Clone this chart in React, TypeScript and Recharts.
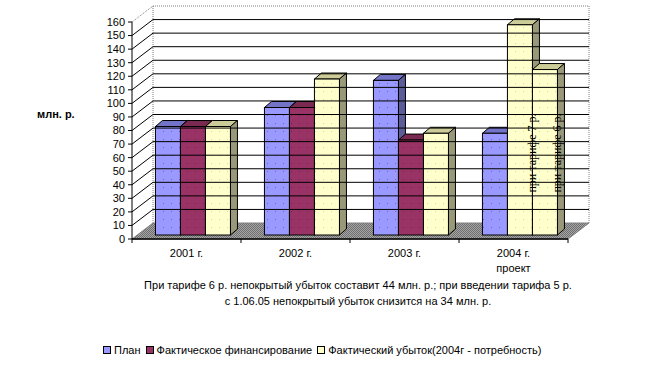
import React from "react";
import { Bar, BarChart, LabelList, ReferenceArea, ReferenceLine, XAxis, YAxis } from "recharts";

const categories = ["2001 г.", "2002 г.", "2003 г.", "2004 г."];
const categoryNotes = ["", "", "", "проект"];
const planValues = [80, 94, 114, 75];
const financeValues = [80, 94, 70, 155];
const lossValues = [80, 115, 75, 122];
// 2004: the second and third columns are both "loss" variants (tariff 7 / tariff 6)
const financeLabels = ["", "", "", "при тарифе 7 р."];
const lossLabels = ["", "", "", "при тарифе 6 р."];
const yTicks = [0, 10, 20, 30, 40, 50, 60, 70, 80, 90, 100, 110, 120, 130, 140, 150, 160];

const seriesNames = ["План", "Фактическое финансирование", "Фактический убыток(2004г - потребность)"];
const note =
  "При тарифе 6 р. непокрытый убыток составит 44 млн. р.; при введении тарифа 5 р.";
const note2 = "с 1.06.05 непокрытый убыток снизится на 34 млн. р.";

const data = categories.map((name, i) => ({
  name,
  plan: planValues[i],
  finance: financeValues[i],
  loss: lossValues[i],
  financeLabel: financeLabels[i],
  lossLabel: lossLabels[i],
}));

const FONT = "'Liberation Sans', Arial, sans-serif";
const W = 645;
const H = 370;

// 3D geometry
const WALL_DX = 21;
const WALL_DY = 16;
const BAR_SHIFT_X = 6;
const BAR_SHIFT_Y = 4;
const BAR_DX = 7;
const BAR_DY = 6;

type Palette = { face: string; dot: string; top: string; side: string; id: string };
const PLAN: Palette = { id: "plan", face: "#9999ff", dot: "#6666cc", top: "#7373c8", side: "#5c5c99" };
const FIN: Palette = { id: "fin", face: "#993366", dot: "#6b2347", top: "#7a2950", side: "#5c1f3d" };
const LOSS: Palette = { id: "loss", face: "#ffffcc", dot: "#d6d6a8", top: "#cccc99", side: "#99997a" };

function makeShape(pal: Palette, override?: (i: number) => Palette | null) {
  return (props: any) => {
    const { x, y, width, height, index } = props;
    const p = (override && override(index)) || pal;
    const fx = x + BAR_SHIFT_X;
    const fy = y - BAR_SHIFT_Y;
    return (
      <g stroke="#000" strokeWidth={1}>
        <polygon
          points={`${fx},${fy} ${fx + BAR_DX},${fy - BAR_DY} ${fx + width + BAR_DX},${fy - BAR_DY} ${fx + width},${fy}`}
          fill={p.top}
        />
        <polygon
          points={`${fx + width},${fy} ${fx + width + BAR_DX},${fy - BAR_DY} ${fx + width + BAR_DX},${fy + height - BAR_DY} ${fx + width},${fy + height}`}
          fill={p.side}
        />
        <rect x={fx} y={fy} width={width} height={height} fill={`url(#dots-${p.id})`} />
      </g>
    );
  };
}

const planShape = makeShape(PLAN);
const financeShape = makeShape(FIN, (i) => (financeLabels[i] ? LOSS : null));
const lossShape = makeShape(LOSS);

// both 2004 captions are drawn from the last series so they sit on top of every bar
function makeVerticalLabel(edge: "left" | "right") {
  return (props: any) => {
    const { x, y, width, height, value } = props;
    if (!value) return null;
    const cx = x + BAR_SHIFT_X + (edge === "right" ? width : 0) - 0.5;
    const cy = y + height - BAR_SHIFT_Y - 82;
    return (
      <text
        x={cx}
        y={cy}
        transform={`rotate(-90 ${cx} ${cy})`}
        textAnchor="middle"
        dominantBaseline="central"
        fontFamily="'Liberation Serif', 'Times New Roman', serif"
        fontSize={12}
        fill="#000"
      >
        {value}
      </text>
    );
  };
}

const leftLabel = makeVerticalLabel("left");
const rightLabel = makeVerticalLabel("right");

function Walls(props: any) {
  const { x, y, width, height } = props;
  const b = y + height;
  return (
    <g>
      <polygon
        points={`${x},${b} ${x + width},${b} ${x + width + WALL_DX},${b - WALL_DY} ${x + WALL_DX},${b - WALL_DY}`}
        fill="url(#floorDots)"
        stroke="#808080"
      />
      <line x1={x + WALL_DX} y1={y - WALL_DY} x2={x + WALL_DX} y2={b - WALL_DY} stroke="#808080" strokeDasharray="1 1" />
      <line x1={x + width + WALL_DX} y1={y - WALL_DY} x2={x + width + WALL_DX} y2={b - WALL_DY} stroke="#808080" strokeDasharray="1 1" />
      <line x1={x + WALL_DX} y1={y - WALL_DY} x2={x + width + WALL_DX} y2={y - WALL_DY} stroke="#808080" strokeDasharray="1 1" />
      <line x1={x} y1={y} x2={x + WALL_DX} y2={y - WALL_DY} stroke="#808080" strokeDasharray="1 1" />
      <line x1={x} y1={b} x2={x + width} y2={b} stroke="#000" />
    </g>
  );
}

function GridLine(props: any) {
  const { x1, x2, y1 } = props;
  return (
    <g stroke="#000">
      <line x1={x1} y1={y1} x2={x1 + WALL_DX} y2={y1 - WALL_DY} />
      <line x1={x1 + WALL_DX} y1={y1 - WALL_DY} x2={x2 + WALL_DX} y2={y1 - WALL_DY} />
    </g>
  );
}

function CategoryTick(props: any) {
  const { x, y, payload, index, width } = props;
  const band = (width || 436) / categories.length;
  const left = x - band / 2;
  const i = index ?? categories.indexOf(payload.value);
  return (
    <g>
      <line x1={left} y1={y} x2={left} y2={y + 4} stroke="#000" />
      {i === categories.length - 1 && <line x1={x + band / 2} y1={y} x2={x + band / 2} y2={y + 4} stroke="#000" />}
      <text x={x} y={y + 18} textAnchor="middle" fontFamily={FONT} fontSize={11} fill="#000">
        {payload.value}
      </text>
      {categoryNotes[i] && (
        <text x={x} y={y + 33} textAnchor="middle" fontFamily={FONT} fontSize={11} fill="#000">
          {categoryNotes[i]}
        </text>
      )}
    </g>
  );
}

const palettes = [PLAN, FIN, LOSS];

export default function App() {
  return (
    <div style={{ position: "absolute", left: 0, top: 0, width: W, height: H, background: "#fff", fontFamily: FONT }}>
      <BarChart
        width={W}
        height={H}
        data={data}
        margin={{ top: 22, right: 77, left: 92, bottom: 101 }}
        barCategoryGap="16%"
        barGap={0}
      >
        <defs>
          <pattern id="floorDots" width="2" height="2" patternUnits="userSpaceOnUse">
            <rect width="2" height="2" fill="#a6a6a6" />
            <rect width="1" height="1" fill="#6e6e6e" />
            <rect x="1" y="1" width="1" height="1" fill="#6e6e6e" />
          </pattern>
          {palettes.map((p) => (
            <pattern key={p.id} id={`dots-${p.id}`} width="8" height="8" patternUnits="userSpaceOnUse">
              <rect width="8" height="8" fill={p.face} />
              <rect x="3" y="3" width="1" height="1" fill={p.dot} />
            </pattern>
          ))}
        </defs>
        <XAxis
          dataKey="name"
          height={30}
          axisLine={{ stroke: "#000" }}
          tickLine={false}
          tickSize={0}
          tickMargin={0}
          tick={<CategoryTick />}
          interval={0}
        />
        <YAxis
          width={40}
          domain={[0, 160]}
          ticks={yTicks}
          interval={0}
          axisLine={{ stroke: "#000" }}
          tickLine={{ stroke: "#000" }}
          tickSize={4}
          tickMargin={3}
          tick={{ fontSize: 11, fontFamily: FONT, fill: "#000" }}
        />
        <ReferenceArea y1={0} y2={160} shape={<Walls />} ifOverflow="visible" />
        {yTicks
          .filter((v) => v > 0 && v < 160)
          .map((v) => (
            <ReferenceLine key={v} y={v} shape={<GridLine />} ifOverflow="visible" />
          ))}
        <Bar dataKey="plan" name={seriesNames[0]} fill={PLAN.face} shape={planShape} isAnimationActive={false} />
        <Bar dataKey="finance" name={seriesNames[1]} fill={FIN.face} shape={financeShape} isAnimationActive={false} />
        <Bar dataKey="loss" name={seriesNames[2]} fill={LOSS.face} shape={lossShape} isAnimationActive={false}>
          <LabelList dataKey="financeLabel" content={leftLabel} />
          <LabelList dataKey="lossLabel" content={rightLabel} />
        </Bar>
      </BarChart>

      <div style={{ position: "absolute", left: 37, top: 107, fontSize: 11, lineHeight: "14px", fontWeight: "bold" }}>
        млн. р.
      </div>

      <div style={{ position: "absolute", left: 0, top: 277, width: 716, textAlign: "center", fontSize: 11, lineHeight: "16px" }}>
        <div>{note}</div>
        <div>{note2}</div>
      </div>

      <div
        style={{
          position: "absolute",
          left: 103,
          top: 343,
          display: "flex",
          alignItems: "center",
          fontSize: 11,
          lineHeight: "14px",
          whiteSpace: "nowrap",
        }}
      >
        {seriesNames.map((s, i) => (
          <div key={s} style={{ display: "flex", alignItems: "center", marginRight: 5 }}>
            <span
              style={{
                display: "inline-block",
                width: 6,
                height: 6,
                background: palettes[i].face,
                border: "1px solid #000",
                marginRight: 3,
              }}
            />
            <span>{s}</span>
          </div>
        ))}
      </div>
    </div>
  );
}
